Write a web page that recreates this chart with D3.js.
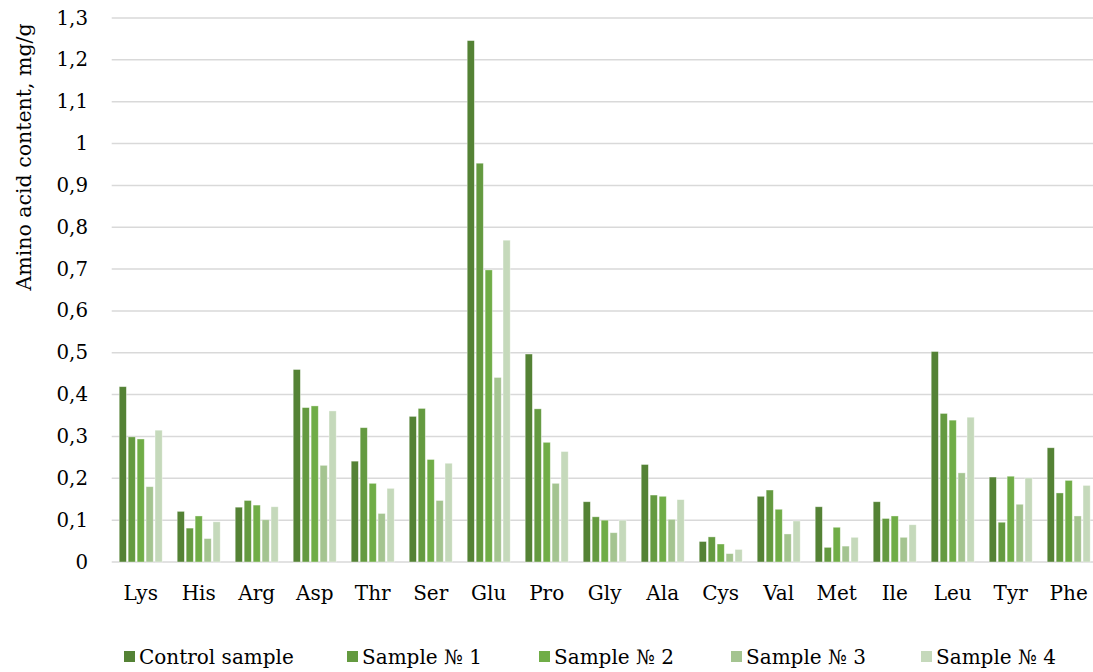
<!DOCTYPE html>
<html>
<head>
<meta charset="utf-8">
<script src="https://cdn.jsdelivr.net/npm/d3@7"></script>
<style>
  html, body { margin: 0; padding: 0; background: #fff; }
  svg { display: block; }
</style>
</head>
<body>
<svg id="chart"></svg>
<script>
/* Amino acid content — grouped bar chart */

const CATEGORIES = ['Lys', 'His', 'Arg', 'Asp', 'Thr', 'Ser', 'Glu', 'Pro', 'Gly',
                    'Ala', 'Cys', 'Val', 'Met', 'Ile', 'Leu', 'Tyr', 'Phe'];
const SERIES     = ['Control sample', 'Sample № 1', 'Sample № 2', 'Sample № 3', 'Sample № 4'];
const COLORS     = ['#548235', '#649a40', '#70ad47', '#a4c490', '#c5d9bb'];

const CONTROL  = [0.419, 0.121, 0.131, 0.460, 0.241, 0.348, 1.246, 0.497, 0.144,
                  0.233, 0.049, 0.157, 0.132, 0.144, 0.503, 0.203, 0.273];
const SAMPLE_1 = [0.299, 0.081, 0.147, 0.369, 0.321, 0.367, 0.953, 0.366, 0.108,
                  0.160, 0.060, 0.172, 0.035, 0.104, 0.355, 0.095, 0.165];
const SAMPLE_2 = [0.294, 0.110, 0.136, 0.373, 0.188, 0.245, 0.698, 0.286, 0.100,
                  0.157, 0.043, 0.126, 0.083, 0.110, 0.339, 0.205, 0.195];
const SAMPLE_3 = [0.180, 0.056, 0.101, 0.231, 0.116, 0.147, 0.441, 0.188, 0.070,
                  0.102, 0.020, 0.067, 0.038, 0.059, 0.213, 0.138, 0.110];
const SAMPLE_4 = [0.315, 0.096, 0.132, 0.361, 0.176, 0.236, 0.769, 0.264, 0.100,
                  0.149, 0.030, 0.098, 0.059, 0.089, 0.346, 0.201, 0.183];

const Y_TICKS  = [0, 0.1, 0.2, 0.3, 0.4, 0.5, 0.6, 0.7, 0.8, 0.9, 1, 1.1, 1.2, 1.3];
const Y_TITLE  = 'Amino acid content, mg/g';

const FONT = '"DejaVu Serif", "Liberation Serif", serif';

const W = 1093, H = 672;
const plot = { left: 111.7, right: 1097.7, top: 18, bottom: 562 };
const LEGEND_X = [124, 347, 539, 731, 921];

const svg = d3.select('#chart')
  .attr('width', W)
  .attr('height', H)
  .attr('viewBox', `0 0 ${W} ${H}`);

const allSeries = [CONTROL, SAMPLE_1, SAMPLE_2, SAMPLE_3, SAMPLE_4];

/* ── Scales ── */
const x0 = d3.scaleBand()
  .domain(CATEGORIES)
  .range([plot.left, plot.right])
  .padding(0);

const x1 = d3.scaleBand()
  .domain(SERIES)
  .range([7.5, x0.bandwidth() - 7.5])
  .paddingInner(0.2);

const y = d3.scaleLinear()
  .domain([0, 1.3])
  .range([plot.bottom, plot.top]);

const fmt = v => String(+v.toFixed(1)).replace('.', ',');

/* ── Gridlines ── */
svg.append('g')
  .selectAll('line')
  .data(Y_TICKS)
  .join('line')
  .attr('x1', plot.left)
  .attr('x2', W)
  .attr('y1', d => y(d))
  .attr('y2', d => y(d))
  .attr('stroke', '#d9d9d9')
  .attr('stroke-width', 1.5);

/* ── Y axis labels ── */
svg.append('g')
  .selectAll('text')
  .data(Y_TICKS)
  .join('text')
  .attr('x', 88)
  .attr('y', d => y(d))
  .attr('text-anchor', 'end')
  .attr('dominant-baseline', 'central')
  .attr('font-family', FONT)
  .attr('font-size', 19.8)
  .attr('fill', '#000')
  .text(fmt);

/* ── Y title ── */
svg.append('text')
  .attr('transform', 'translate(24,157) rotate(-90)')
  .attr('text-anchor', 'middle')
  .attr('dominant-baseline', 'central')
  .attr('font-family', FONT)
  .attr('font-size', 20.5)
  .attr('fill', '#000')
  .text(Y_TITLE);

/* ── Bars ── */
const rows = CATEGORIES.map((c, i) => ({
  cat: c,
  vals: SERIES.map((s, j) => ({ s, j, v: allSeries[j][i] }))
}));

svg.append('g')
  .selectAll('g')
  .data(rows)
  .join('g')
  .attr('transform', d => `translate(${x0(d.cat)},0)`)
  .selectAll('rect')
  .data(d => d.vals)
  .join('rect')
  .attr('x', d => x1(d.s))
  .attr('y', d => y(d.v))
  .attr('width', x1.bandwidth())
  .attr('height', d => y(0) - y(d.v))
  .attr('fill', d => COLORS[d.j])
  .attr('stroke', 'rgba(255,255,255,0.5)')
  .attr('stroke-width', 0.75);

/* ── X axis labels ── */
svg.append('g')
  .selectAll('text')
  .data(CATEGORIES)
  .join('text')
  .attr('x', d => x0(d) + x0.bandwidth() / 2)
  .attr('y', 593)
  .attr('text-anchor', 'middle')
  .attr('dominant-baseline', 'central')
  .attr('font-family', FONT)
  .attr('font-size', 20)
  .attr('fill', '#000')
  .text(d => d);

/* ── Legend ── */
const legendItems = svg.append('g')
  .selectAll('g')
  .data(SERIES)
  .join('g')
  .attr('transform', (d, i) => `translate(${LEGEND_X[i]},0)`);

legendItems.append('rect')
  .attr('x', 0)
  .attr('y', 651)
  .attr('width', 11)
  .attr('height', 11)
  .attr('fill', (d, i) => COLORS[i]);

legendItems.append('text')
  .attr('x', 15)
  .attr('y', 657)
  .attr('dominant-baseline', 'central')
  .attr('font-family', FONT)
  .attr('font-size', 20)
  .attr('fill', '#000')
  .text(d => d);
</script>
</body>
</html>
